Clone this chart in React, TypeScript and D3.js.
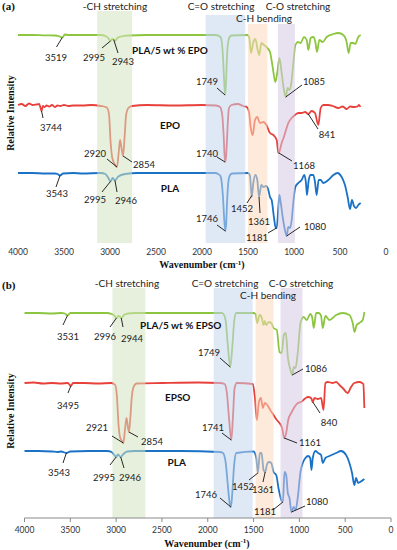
import React from 'react';
import * as d3 from 'd3';

const W = 397;
const H = 550;

// ---------- tick labels ----------
const xTicks = [4000, 3500, 3000, 2500, 2000, 1500, 1000, 500, 0];

// ---------- series names ----------
const namesA = ['PLA/5 wt % EPO', 'EPO', 'PLA'];
const namesB = ['PLA/5 wt % EPSO', 'EPSO', 'PLA'];

// ---------- band labels & wavenumber ranges ----------
const bandLabels = ['-CH stretching', 'C=O stretching', 'C-H bending', 'C-O stretching'];
const bandFromA = [3140, 1960, 1500, 1175];
const bandToA = [2760, 1530, 1290, 990];
const bandFromB = [3040, 1935, 1478, 1206];
const bandToB = [2680, 1510, 1282, 966];

// ---------- spectra (wavenumber, relative intensity a.u.) ----------
const blendEpo: [number, number][] = [
  [4000, 100], [3850, 100], [3700, 99.6], [3600, 99.5], [3560, 99], [3519, 97.5], [3490, 100.5], [3450, 100],
  [3300, 100], [3100, 100], [3050, 99], [3020, 97], [2995, 94], [2975, 96], [2960, 95.5], [2943, 94], [2920, 97],
  [2880, 98.5], [2800, 99.5], [2600, 100], [2200, 100], [1850, 100], [1800, 98], [1785, 93], [1770, 75], [1760, 55],
  [1749, 40], [1740, 50], [1730, 75], [1720, 90], [1705, 97], [1680, 99.5], [1507, 100], [1486, 97], [1467, 82],
  [1442, 93], [1420, 96], [1395, 85], [1377, 80], [1355, 92], [1326, 90], [1290, 87], [1261, 83], [1232, 68],
  [1203, 53], [1181, 63], [1159, 77], [1134, 62], [1109, 45], [1090, 38], [1069, 47], [1051, 45], [1029, 52],
  [1007, 72], [985, 90], [957, 93], [928, 92], [891, 98], [862, 95], [844, 85], [819, 97], [790, 98], [768, 93],
  [750, 83], [725, 95], [688, 93], [645, 98], [572, 101], [518, 102], [464, 100], [428, 93], [406, 82], [384, 92],
  [355, 92], [334, 91], [301, 98], [275, 100],
];

const epo: [number, number][] = [
  [4000, 100], [3960, 101], [3920, 99], [3880, 101.5], [3840, 100], [3800, 100.5], [3770, 101], [3755, 97],
  [3744, 94], [3730, 99], [3710, 98], [3690, 99.5], [3660, 98.5], [3630, 100], [3600, 98], [3570, 99.5], [3540, 99],
  [3500, 100], [3450, 99], [3400, 99.5], [3300, 99.5], [3200, 100], [3100, 99], [3050, 98], [3030, 97], [3010, 90],
  [2995, 65], [2975, 47], [2955, 42], [2924, 38], [2905, 53], [2891, 65], [2875, 57], [2858, 49], [2840, 70],
  [2825, 90], [2800, 97], [2760, 99], [2600, 100], [2300, 99.5], [2000, 100], [1850, 99.5], [1804, 98], [1780, 90],
  [1765, 70], [1750, 43], [1740, 47], [1730, 62], [1718, 85], [1707, 97], [1680, 100], [1609, 101], [1554, 99],
  [1514, 98], [1489, 93], [1471, 78], [1449, 70], [1424, 85], [1399, 88], [1370, 82], [1333, 83], [1300, 80],
  [1261, 72], [1225, 70], [1188, 65], [1170, 52], [1160, 53], [1134, 62], [1110, 68], [1087, 75], [1062, 82],
  [1025, 87], [989, 90], [953, 92], [917, 92], [880, 93], [845, 91], [808, 94], [772, 92], [736, 80], [710, 97],
  [681, 100], [630, 100], [580, 99], [518, 97], [470, 98.5], [428, 96], [390, 98.5], [350, 98], [310, 98.5],
  [293, 100], [279, 98],
];

const plaA: [number, number][] = [
  [4000, 102], [3850, 102], [3700, 101.5], [3600, 101.5], [3570, 101], [3543, 99.5], [3510, 101.5], [3400, 102],
  [3300, 101.5], [3100, 102], [3050, 101], [3018, 97], [2995, 93.5], [2971, 97], [2946, 94.5], [2910, 98.5],
  [2837, 101], [2700, 102], [2300, 102], [1850, 102], [1826, 101], [1800, 99], [1785, 92], [1770, 75], [1758, 55],
  [1746, 44], [1737, 52], [1728, 72], [1715, 92], [1700, 99], [1674, 101.5], [1500, 102], [1478, 99], [1460, 78],
  [1442, 92], [1420, 100], [1399, 95], [1380, 78], [1366, 85], [1355, 90], [1333, 88], [1304, 89], [1279, 85],
  [1261, 78], [1243, 75], [1217, 57], [1199, 47], [1188, 47], [1170, 68], [1159, 80], [1145, 73], [1123, 58],
  [1105, 48], [1080, 39], [1062, 48], [1043, 47], [1025, 55], [1007, 73], [985, 88], [953, 92], [917, 95],
  [888, 100], [870, 92], [859, 80], [840, 95], [819, 100], [790, 100], [772, 93], [754, 80], [732, 95], [710, 95],
  [681, 92], [627, 95], [572, 100], [529, 102], [482, 98], [446, 90], [417, 78], [391, 66], [370, 75], [348, 69],
  [326, 67], [301, 70], [275, 72],
];

const blendEpso: [number, number][] = [
  [4000, 100], [3850, 100], [3700, 99.5], [3600, 100], [3560, 99.5], [3531, 97.5], [3500, 100], [3300, 100],
  [3100, 100], [3050, 99], [3020, 97.5], [2996, 95], [2975, 97], [2960, 96.5], [2944, 95], [2915, 98], [2870, 99.5],
  [2800, 100], [2300, 100], [1850, 100], [1829, 99], [1805, 93], [1783, 70], [1754, 46], [1732, 66], [1710, 93],
  [1689, 100], [1500, 100], [1478, 99], [1460, 90], [1435, 98], [1413, 96], [1391, 88], [1377, 92], [1362, 88],
  [1333, 91], [1307, 90], [1282, 85], [1246, 83], [1217, 61], [1192, 60], [1170, 78], [1148, 80], [1126, 56],
  [1097, 43], [1078, 38], [1061, 46], [1042, 45], [1017, 61], [988, 90], [955, 96], [919, 93], [882, 99], [861, 96],
  [843, 85], [817, 100], [789, 100], [763, 97], [745, 85], [716, 97], [672, 93], [599, 98], [527, 100], [454, 98],
  [418, 90], [397, 81], [375, 88], [345, 90], [309, 93], [291, 101],
];

const epso: [number, number][] = [
  [4000, 100], [3900, 100.5], [3800, 99.5], [3700, 100], [3600, 99.5], [3530, 100], [3510, 98.5], [3495, 97],
  [3470, 100], [3350, 100], [3200, 99.5], [3050, 100], [3010, 98], [2990, 85], [2975, 60], [2955, 45], [2935, 42],
  [2921, 40], [2905, 52], [2887, 65], [2870, 55], [2860, 51], [2845, 65], [2830, 85], [2810, 96], [2775, 99.5],
  [2500, 100], [2100, 100.5], [1868, 100], [1816, 99], [1791, 90], [1769, 66], [1743, 43], [1725, 66], [1707, 95],
  [1682, 100], [1508, 99], [1486, 86], [1464, 63], [1442, 81], [1420, 85], [1399, 75], [1377, 80], [1351, 78],
  [1318, 73], [1282, 68], [1246, 63], [1217, 60], [1188, 55], [1166, 45], [1144, 50], [1122, 63], [1089, 70],
  [1053, 76], [1017, 80], [980, 81], [944, 84], [908, 86], [872, 85], [854, 81], [835, 85], [799, 84], [763, 85],
  [737, 73], [716, 100], [690, 101], [636, 100], [599, 101], [563, 98], [527, 95], [473, 90], [436, 96], [400, 100],
  [345, 101], [316, 100], [302, 99], [291, 75],
];

const plaB: [number, number][] = [
  [4000, 102], [3850, 102], [3700, 101.5], [3640, 101], [3600, 101.5], [3543, 100], [3500, 101.5], [3300, 102],
  [3100, 102], [3050, 101], [3020, 98], [3000, 96], [2980, 98.5], [2950, 96], [2920, 99], [2880, 101.5], [2800, 102],
  [2300, 102], [1870, 101], [1834, 100], [1805, 91], [1783, 70], [1761, 50], [1747, 46], [1732, 60], [1714, 86],
  [1688, 100], [1500, 101.5], [1470, 95], [1453, 80], [1431, 100], [1413, 100], [1391, 83], [1373, 81], [1355, 88],
  [1333, 91], [1307, 90], [1282, 81], [1253, 78], [1224, 63], [1198, 53], [1180, 51], [1162, 81], [1144, 78],
  [1126, 60], [1108, 55], [1086, 41], [1064, 46], [1042, 43], [1017, 56], [988, 81], [963, 90], [934, 95], [904, 97],
  [882, 95], [868, 83], [854, 95], [825, 102], [796, 100], [763, 98], [745, 90], [716, 95], [672, 97], [599, 100],
  [545, 102], [490, 98], [454, 90], [425, 80], [400, 68], [381, 75], [359, 70], [337, 71], [291, 74],
];

// ---------- peak annotations ----------
type Ann = { s: number; label: string; at: number; ex: number; ey: number; tx: number; ty: number };
const annA: Ann[] = [
  { s: 0, label: '3519', at: 3519, ex: 56.5, ey: 47, tx: 56, ty: 58 },
  { s: 0, label: '2995', at: 2995, ex: 102, ey: 48, tx: 94, ty: 58 },
  { s: 0, label: '2943', at: 2960, ex: 118, ey: 53, tx: 123, ty: 62 },
  { s: 0, label: '1749', at: 1749, ex: 217, ey: 88, tx: 207, ty: 82 },
  { s: 0, label: '1085', at: 1090, ex: 302, ey: 85, tx: 314, ty: 82 },
  { s: 1, label: '3744', at: 3744, ex: 43, ey: 118, tx: 51, ty: 128 },
  { s: 1, label: '2920', at: 2924, ex: 107, ey: 159, tx: 95, ty: 154 },
  { s: 1, label: '2854', at: 2858, ex: 132, ey: 162, tx: 144, ty: 165 },
  { s: 1, label: '1740', at: 1750, ex: 217, ey: 157, tx: 207, ty: 154 },
  { s: 1, label: '1168', at: 1168, ex: 292, ey: 161, tx: 304, ty: 166 },
  { s: 1, label: '841', at: 845, ex: 318, ey: 129, tx: 327, ty: 135 },
  { s: 2, label: '3543', at: 3543, ex: 56, ey: 187, tx: 57, ty: 194 },
  { s: 2, label: '2995', at: 2995, ex: 102, ey: 192, tx: 95, ty: 200 },
  { s: 2, label: '2946', at: 2946, ex: 117, ey: 192, tx: 126, ty: 201 },
  { s: 2, label: '1746', at: 1746, ex: 217, ey: 225, tx: 207, ty: 219 },
  { s: 2, label: '1452', at: 1458, ex: 247, ey: 203, tx: 242, ty: 209 },
  { s: 2, label: '1361', at: 1380, ex: 260, ey: 213, tx: 259, ty: 222 },
  { s: 2, label: '1181', at: 1190, ex: 268, ey: 233, tx: 257, ty: 238 },
  { s: 2, label: '1080', at: 1080, ex: 300, ey: 227, tx: 315, ty: 227 },
];
const annB: Ann[] = [
  { s: 0, label: '3531', at: 3531, ex: 63, ey: 325, tx: 68, ty: 337 },
  { s: 0, label: '2996', at: 2996, ex: 110, ey: 327, tx: 105, ty: 337 },
  { s: 0, label: '2944', at: 2944, ex: 123, ey: 327, tx: 132, ty: 339 },
  { s: 0, label: '1749', at: 1754, ex: 220, ey: 358, tx: 209, ty: 353 },
  { s: 0, label: '1086', at: 1078, ex: 303, ey: 369, tx: 316, ty: 369 },
  { s: 1, label: '3495', at: 3495, ex: 68, ey: 393, tx: 68, ty: 406 },
  { s: 1, label: '2921', at: 2921, ex: 112, ey: 436, tx: 97, ty: 428 },
  { s: 1, label: '2854', at: 2860, ex: 138, ey: 437, tx: 152, ty: 442 },
  { s: 1, label: '1741', at: 1743, ex: 222, ey: 433, tx: 213, ty: 428 },
  { s: 1, label: '1161', at: 1166, ex: 297, ey: 443, tx: 310, ty: 443 },
  { s: 1, label: '840', at: 854, ex: 320, ey: 413, tx: 329, ty: 423 },
  { s: 2, label: '3543', at: 3543, ex: 63, ey: 463, tx: 59, ty: 473 },
  { s: 2, label: '2995', at: 3000, ex: 110, ey: 465, tx: 104, ty: 478 },
  { s: 2, label: '2946', at: 2950, ex: 124, ey: 468, tx: 130, ty: 478 },
  { s: 2, label: '1452', at: 1453, ex: 249, ey: 480, tx: 243, ty: 487 },
  { s: 2, label: '1361', at: 1373, ex: 263, ey: 482, tx: 263, ty: 490 },
  { s: 2, label: '1746', at: 1747, ex: 220, ey: 498, tx: 206, ty: 495 },
  { s: 2, label: '1181', at: 1180, ex: 273, ey: 510, tx: 265, ty: 512 },
  { s: 2, label: '1080', at: 1086, ex: 305, ey: 506, tx: 317, ty: 502 },
];

// ---------- styling ----------
const colors = ['#8cc63f', '#e8403a', '#1a72c6'];
const bandColors = ['#d3e4bf', '#c4d6ec', '#fbd8bb', '#d5cae3'];
const offsets = [140, 70, 0];
const SANS = "Lato, 'Open Sans', sans-serif";
const SERIF = "'Liberation Serif', 'Times New Roman', serif";

function valueAt(s: [number, number][], wn: number): number {
  for (let i = 0; i < s.length - 1; i++) {
    const [w0, v0] = s[i];
    const [w1, v1] = s[i + 1];
    if (wn <= w0 && wn >= w1) {
      const t = w0 === w1 ? 0 : (w0 - wn) / (w0 - w1);
      return v0 + t * (v1 - v0);
    }
  }
  return s[s.length - 1][1];
}

type PanelProps = {
  tag: string;
  series: [number, number][][];
  names: string[];
  nameWn: number[];
  nameY: number[];
  xRange: [number, number];
  yRange: [number, number];
  bandFrom: number[];
  bandTo: number[];
  bandTop: number[];
  bandBottom: number;
  bandLabelPos: [number, number][];
  anns: Ann[];
  tickY: number;
  axisLineY: number | null;
  titleX: number;
  titleY: number;
  yTitleY: number;
  tagY: number;
};

function Panel(p: PanelProps) {
  const x = d3.scaleLinear().domain([4000, 0]).range(p.xRange);
  const y = d3.scaleLinear().domain([0, 275]).range(p.yRange);
  const line = (off: number) =>
    d3
      .line<[number, number]>()
      .x((d) => x(d[0]))
      .y((d) => y(d[1] + off))
      .curve(d3.curveMonotoneX);

  return (
    <g>
      {p.series.map((s, i) => (
        <path
          key={'s' + i}
          d={line(offsets[i])(s) || ''}
          fill="none"
          stroke={colors[i]}
          strokeWidth={1.8}
          strokeLinejoin="round"
        />
      ))}
      {p.bandFrom.map((f, i) => (
        <rect
          key={'b' + i}
          x={x(f)}
          width={x(p.bandTo[i]) - x(f)}
          y={p.bandTop[i]}
          height={p.bandBottom - p.bandTop[i]}
          fill={bandColors[i]}
          fillOpacity={0.55}
        />
      ))}
      {bandLabels.map((b, i) => (
        <text
          key={'bl' + i}
          x={p.bandLabelPos[i][0]}
          y={p.bandLabelPos[i][1]}
          dy="0.35em"
          textAnchor="middle"
          fontFamily={SANS}
          fontSize={10}
          fill="#222"
        >
          {b}
        </text>
      ))}
      {p.names.map((n, i) => (
        <text
          key={'n' + i}
          x={x(p.nameWn[i])}
          y={p.nameY[i]}
          dy="0.35em"
          textAnchor="middle"
          fontFamily={SANS}
          fontWeight="bold"
          fontSize={10}
          fill="#111"
        >
          {n}
        </text>
      ))}
      {p.anns.map((a, i) => {
        const px = x(a.at);
        const py = y(valueAt(p.series[a.s], a.at) + offsets[a.s]);
        return (
          <g key={'a' + i}>
            <line x1={px} y1={py} x2={a.ex} y2={a.ey} stroke="#111" strokeWidth={0.9} />
            <text
              x={a.tx}
              y={a.ty}
              dy="0.35em"
              textAnchor="middle"
              fontFamily={SANS}
              fontSize={9.5}
              fill="#222"
            >
              {a.label}
            </text>
          </g>
        );
      })}
      {p.axisLineY !== null && (
        <g>
          <line x1={x(4000)} x2={x(0)} y1={p.axisLineY} y2={p.axisLineY} stroke="#8a8a8a" strokeWidth={1} />
          {xTicks.map((t) => (
            <line key={'tk' + t} x1={x(t)} x2={x(t)} y1={p.axisLineY} y2={p.axisLineY + 4} stroke="#8a8a8a" strokeWidth={1} />
          ))}
        </g>
      )}
      {xTicks.map((t) => (
        <text
          key={'t' + t}
          x={x(t)}
          y={p.tickY}
          dy="0.35em"
          textAnchor="middle"
          fontFamily={SANS}
          fontSize={8.5}
          fill="#333"
        >
          {t}
        </text>
      ))}
      <text x={p.titleX} y={p.titleY} dy="0.35em" textAnchor="middle" fontFamily={SERIF} fontWeight="bold" fontSize={10} fill="#111">
        Wavenumber (cm
        <tspan fontSize={7} dy="-0.45em">-1</tspan>
        <tspan dy="0.32em">)</tspan>
      </text>
      <text
        transform={`translate(10,${p.yTitleY}) rotate(-90)`}
        dy="0.35em"
        textAnchor="middle"
        fontFamily={SERIF}
        fontWeight="bold"
        fontSize={10}
        fill="#111"
      >
        Relative Intensity
      </text>
      <text x={2} y={p.tagY} dy="0.35em" fontFamily={SERIF} fontWeight="bold" fontSize={11} fill="#111">
        {p.tag}
      </text>
    </g>
  );
}

export default function App() {
  return (
    <svg
      width={W}
      height={H}
      viewBox={`0 0 ${W} ${H}`}
      style={{ position: 'absolute', left: 0, top: 0, background: '#fff' }}
    >
      <rect width={W} height={H} fill="#fff" />
      <Panel
        tag="(a)"
        series={[blendEpo, epo, plaA]}
        names={namesA}
        nameWn={[2348, 2348, 2348]}
        nameY={[50, 125, 188]}
        xRange={[18, 386]}
        yRange={[275, 0]}
        bandFrom={bandFromA}
        bandTo={bandToA}
        bandTop={[11, 15, 24, 24]}
        bandBottom={243}
        bandLabelPos={[[115, 6], [221, 6], [264, 18.5], [298, 6]]}
        anns={annA}
        tickY={252.5}
        axisLineY={null}
        titleX={202}
        titleY={264.5}
        yTitleY={113}
        tagY={6}
      />
      <Panel
        tag="(b)"
        series={[blendEpso, epso, plaB]}
        names={namesB}
        nameWn={[2295, 2328, 2339]}
        nameY={[325, 397, 462]}
        xRange={[24.5, 391]}
        yRange={[553, 278]}
        bandFrom={bandFromB}
        bandTo={bandToB}
        bandTop={[288, 288, 298, 288]}
        bandBottom={518}
        bandLabelPos={[[127, 283.5], [225, 283.5], [268, 295], [301, 283.5]]}
        anns={annB}
        tickY={530}
        axisLineY={518}
        titleX={207}
        titleY={543}
        yTitleY={411}
        tagY={285}
      />
    </svg>
  );
}
